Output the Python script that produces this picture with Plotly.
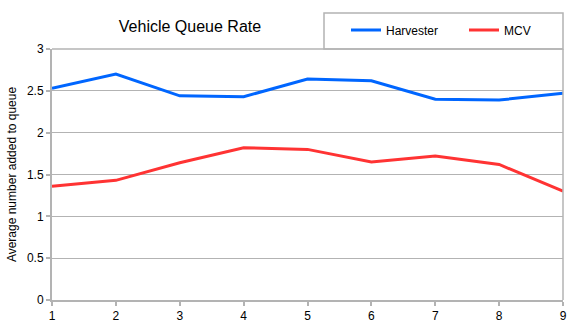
import plotly.graph_objects as go

x_vals = [1, 2, 3, 4, 5, 6, 7, 8, 9]
harvester = [2.53, 2.70, 2.44, 2.43, 2.64, 2.62, 2.40, 2.39, 2.47]
mcv = [1.36, 1.43, 1.64, 1.82, 1.80, 1.65, 1.72, 1.62, 1.30]
y_ticks = [0, 0.5, 1, 1.5, 2, 2.5, 3]
y_tick_text = ["0", "0.5", "1", "1.5", "2", "2.5", "3"]

FONT = "Liberation Sans, Arial, sans-serif"
GRID = "#b3b3b3"

L, R, T, B = 52, 12, 49, 36
PW = 575 - L - R
PH = 336 - T - B

fig = go.Figure()
fig.add_trace(go.Scatter(x=x_vals, y=harvester, mode="lines", name="Harvester",
                         line=dict(color="#0066ff", width=3)))
fig.add_trace(go.Scatter(x=x_vals, y=mcv, mode="lines", name="MCV",
                         line=dict(color="#ff3333", width=3)))

fig.update_layout(
    width=575, height=336, autosize=False,
    margin=dict(l=L, r=R, t=T, b=B, pad=0, autoexpand=False),
    paper_bgcolor="white", plot_bgcolor="white",
    font=dict(family=FONT, size=12, color="#000000"),
    title=dict(text="Vehicle Queue Rate", x=190/575, xanchor="center",
               y=1 - 26/336, yanchor="middle",
               font=dict(family=FONT, size=16, color="#000000")),
    showlegend=True,
    legend=dict(orientation="h", x=(346-L)/PW, xanchor="left",
                y=(336-B-30)/PH, yanchor="middle",
                bgcolor="rgba(0,0,0,0)", borderwidth=0,
                font=dict(family=FONT, size=12), itemwidth=30,
                entrywidth=73, entrywidthmode="pixels",
                tracegroupgap=0),
    xaxis=dict(range=[1, 9], tickvals=x_vals, showgrid=False,
               showline=True, linecolor=GRID, linewidth=2,
               ticks="outside", ticklen=4, tickcolor=GRID, tickwidth=2,
               mirror=False, zeroline=False, fixedrange=True, automargin=False),
    yaxis=dict(range=[0, 3], tickvals=y_ticks, ticktext=y_tick_text,
               showgrid=True, gridcolor=GRID, gridwidth=1,
               showline=True, linecolor=GRID, linewidth=2,
               ticks="outside", ticklen=4, tickcolor=GRID, tickwidth=2,
               zeroline=False, fixedrange=True, automargin=False,
               title=dict(text="Average number added to queue",
                          font=dict(family=FONT, size=12), standoff=8)),
    shapes=[
        dict(type="rect", xref="paper", yref="paper",
             x0=(324-L)/PW, x1=1.0, y0=1.0, y1=(336-B-13)/PH,
             line=dict(color=GRID, width=1.5), fillcolor="rgba(0,0,0,0)", layer="below"),
        dict(type="line", xref="paper", yref="paper", x0=1, x1=1, y0=0, y1=1,
             line=dict(color=GRID, width=1.5)),
        dict(type="line", xref="paper", yref="paper", x0=0, x1=1, y0=1, y1=1,
             line=dict(color=GRID, width=1.5)),
    ],
)

fig.write_html("out.html")
